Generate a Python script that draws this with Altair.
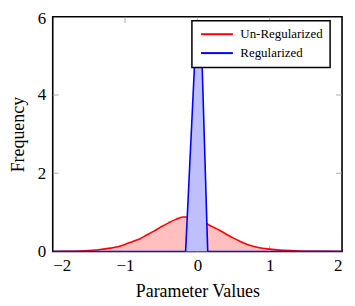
import altair as alt
import pandas as pd

# ---- data ----
series = ["Un-Regularized", "Regularized"]
red_x = [-2.0, -1.8, -1.6, -1.5, -1.4, -1.3, -1.2, -1.1, -1.0, -0.9, -0.8, -0.7, -0.6,
         -0.5, -0.4, -0.3, -0.2, -0.1, 0.0, 0.1, 0.2, 0.3, 0.4, 0.5, 0.6, 0.7, 0.8,
         0.9, 1.0, 1.1, 1.2, 1.4, 1.6, 1.8, 2.0]
red_y = [0.0, 0.004, 0.012, 0.022, 0.037, 0.06, 0.085, 0.12, 0.18, 0.25, 0.32, 0.42, 0.52,
         0.63, 0.73, 0.82, 0.88, 0.88, 0.83, 0.74, 0.64, 0.55, 0.44, 0.34, 0.25, 0.17, 0.12,
         0.08, 0.06, 0.04, 0.028, 0.012, 0.005, 0.002, 0.0]
blue_x = [-2.0, -0.25, -0.163, -0.04, 0.02, 0.066, 0.143, 0.23, 2.0]
blue_y = [0.0, 0.0, 0.0, 4.75, 5.8, 4.75, 0.0, 0.0, 0.0]

x_ticks = [-2, -1, 0, 1, 2]
y_ticks = [0, 2, 4, 6]
inner_x_ticks = [-1, 0, 1]
inner_y_ticks = [2, 4]

W, H = 291, 236
FONT = "Liberation Serif"

red = pd.DataFrame({"x": red_x, "y": red_y, "series": series[0]})
blue = pd.DataFrame({"x": blue_x, "y": blue_y, "series": series[1]})
xt = pd.DataFrame({"t": inner_x_ticks})
yt = pd.DataFrame({"t": inner_y_ticks})

xs = alt.Scale(domain=[-2, 2], nice=False, zero=False)
ys = alt.Scale(domain=[0, 6], nice=False)

xaxis = alt.Axis(values=x_ticks, format="d", title="Parameter Values", ticks=False, domain=False,
                 grid=False, labelPadding=6, titlePadding=9, labelFontSize=17,
                 titleFontSize=18, labelFont=FONT, titleFont=FONT, titleFontWeight="normal",
                 labelColor="black", titleColor="black")
yaxis = alt.Axis(values=y_ticks, format="d", title="Frequency", ticks=False, domain=False,
                 grid=False, labelPadding=7, titlePadding=10, labelFontSize=17,
                 labelOffset={"condition": {"test": "datum.value == 6", "value": 1.5}, "value": 0},
                 titleFontSize=18, labelFont=FONT, titleFont=FONT, titleFontWeight="normal",
                 labelColor="black", titleColor="black")

X = alt.X("x:Q", scale=xs, axis=xaxis)
Y = alt.Y("y:Q", scale=ys, axis=yaxis)

color = alt.Color("series:N", scale=alt.Scale(domain=series, range=["#ff0000", "#0000ff"]),
                  legend=alt.Legend(title=None, orient="none", legendX=140, legendY=4,
                                    symbolType="M-3,0L3,0", symbolSize=113.8,
                                    symbolStrokeWidth=2, symbolOffset=11.7, labelOffset=17,
                                    padding=7, rowPadding=5, strokeColor="black",
                                    fillColor="white", labelFont=FONT, labelFontSize=13,
                                    labelColor="black"))

tb = alt.Chart(xt).mark_rule(color="#999999", strokeWidth=0.8).encode(
    x=alt.X("t:Q", scale=xs), y=alt.value(H), y2=alt.value(H - 6))
tt = alt.Chart(xt).mark_rule(color="#999999", strokeWidth=0.8).encode(
    x=alt.X("t:Q", scale=xs), y=alt.value(0), y2=alt.value(6))
tl = alt.Chart(yt).mark_rule(color="#999999", strokeWidth=0.8).encode(
    y=alt.Y("t:Q", scale=ys), x=alt.value(0), x2=alt.value(6))
tr = alt.Chart(yt).mark_rule(color="#999999", strokeWidth=0.8).encode(
    y=alt.Y("t:Q", scale=ys), x=alt.value(W), x2=alt.value(W - 6))

red_area = alt.Chart(red).mark_area(color="#ffbfbf", clip=True, interpolate="monotone").encode(x=X, y=Y)
red_line = alt.Chart(red).mark_line(strokeWidth=1.6, clip=True, interpolate="monotone").encode(x=X, y=Y, color=color)
blue_area = alt.Chart(blue).mark_area(color="#bfbfff", clip=True).encode(x=X, y=Y)
blue_line = alt.Chart(blue).mark_line(strokeWidth=1.6, clip=True).encode(x=X, y=Y, color=color)

chart = alt.layer(tb, tt, tl, tr, red_area, red_line, blue_area, blue_line).properties(
    width=W, height=H, autosize=alt.AutoSizeParams(type="none"),
    padding={"left": 45, "top": 8, "right": 5, "bottom": 52}
).configure_view(stroke="black", strokeWidth=1.6).configure_legend(strokeWidth=1.5)

chart.save("out.html", embed_options={"renderer": "svg", "actions": False})
